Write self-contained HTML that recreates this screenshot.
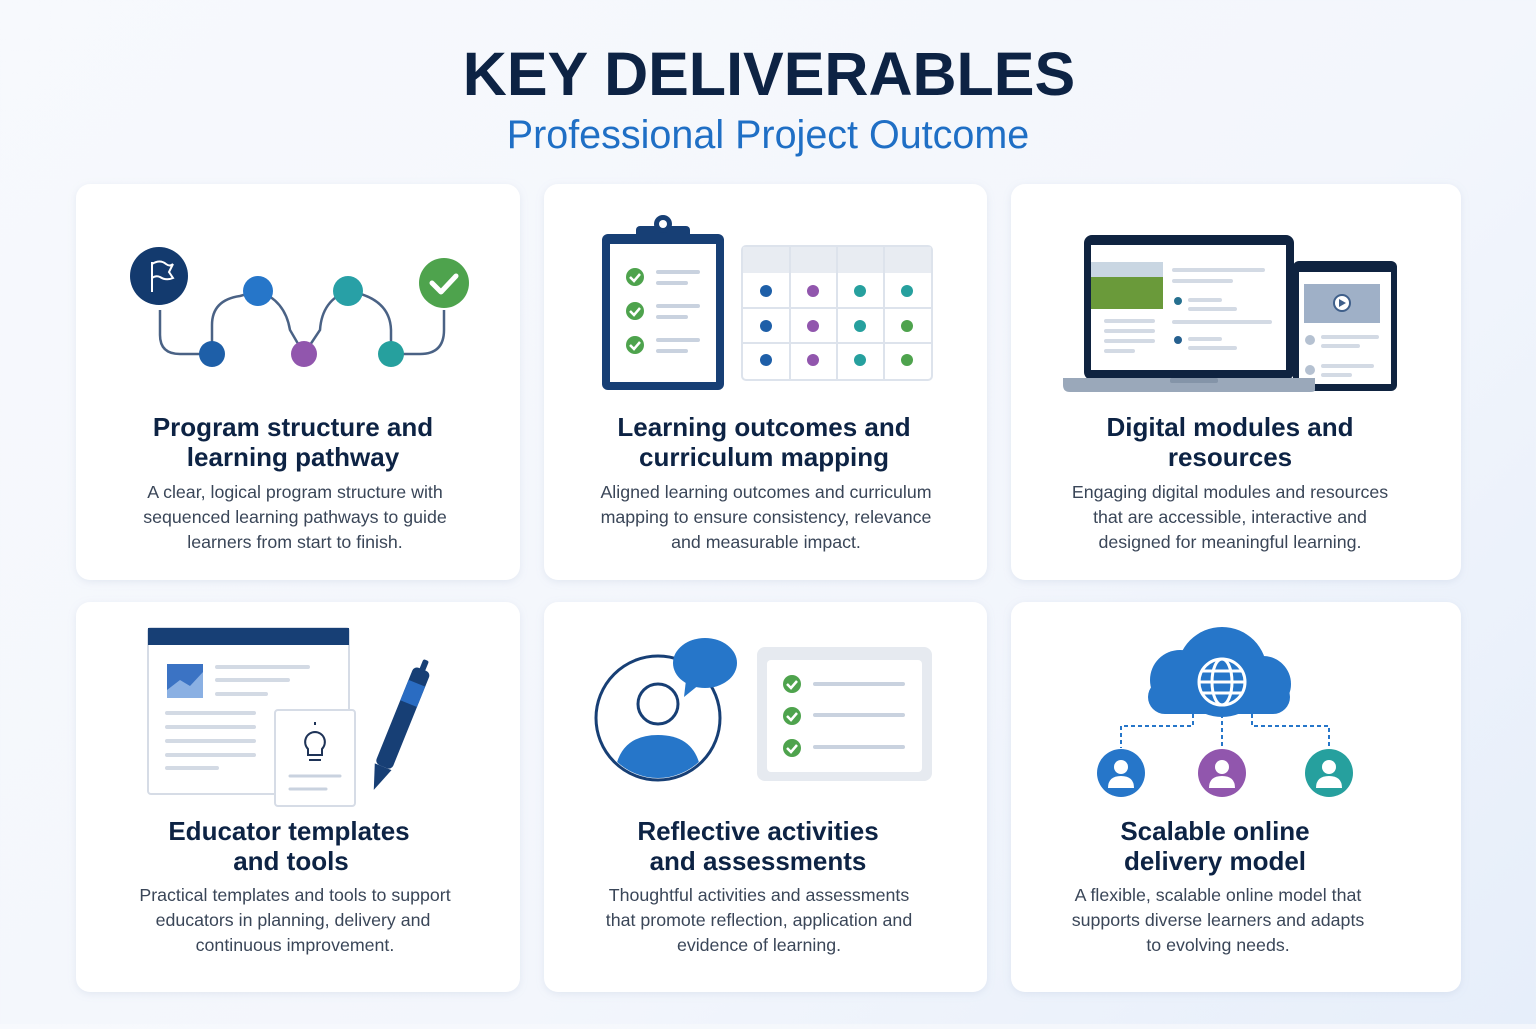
<!DOCTYPE html>
<html><head><meta charset="utf-8"><style>
html,body{margin:0;padding:0;}
body{width:1536px;height:1024px;background:linear-gradient(135deg,#f7f9fd 0%,#f3f6fc 60%,#e6eefa 100%);font-family:"Liberation Sans",sans-serif;overflow:hidden;}
svg text{font-family:"Liberation Sans",sans-serif;}
</style></head><body>
<svg width="1536" height="1024" viewBox="0 0 1536 1024" xmlns="http://www.w3.org/2000/svg">
<defs>
<filter id="sh" x="-10%" y="-10%" width="120%" height="120%"><feDropShadow dx="0" dy="2" stdDeviation="4" flood-color="#8aa0c0" flood-opacity="0.18"/></filter>
</defs>
<text x="769" y="95" text-anchor="middle" font-size="61" font-weight="bold" fill="#0d2344">KEY DELIVERABLES</text>
<text x="768" y="148" text-anchor="middle" font-size="39.5" fill="#1f6fc5">Professional Project Outcome</text>

<g filter="url(#sh)" fill="#fff">
<rect x="76" y="184" width="444" height="396" rx="14"/>
<rect x="544" y="184" width="443" height="396" rx="14"/>
<rect x="1011" y="184" width="450" height="396" rx="14"/>
<rect x="76" y="602" width="444" height="390" rx="14"/>
<rect x="544" y="602" width="443" height="390" rx="14"/>
<rect x="1011" y="602" width="450" height="390" rx="14"/>
</g>

<!-- Icon 1 pathway -->
<g fill="none" stroke="#4a6285" stroke-width="2.5">
<path d="M160 310 V335 Q160 354 180 354 H212"/>
<path d="M212 354 V325 Q212 300 240 296 L258 291"/>
<path d="M258 291 Q285 300 290 330 L304 354"/>
<path d="M304 354 L320 330 Q322 300 348 291"/>
<path d="M348 291 Q390 298 391 330 V354"/>
<path d="M391 354 H420 Q444 354 444 330 V310"/>
</g>
<circle cx="159" cy="276" r="29" fill="#133a6e"/>
<path d="M152 292 V262 M152 264 Q160 259 166 264 Q170 267 173 264 L169 272 L173 278 Q166 281 160 277 Q156 275 152 278" fill="none" stroke="#fff" stroke-width="2"/>
<circle cx="444" cy="283" r="25" fill="#4ea34d"/>
<path d="M432 283 L441 292 L456 276" fill="none" stroke="#fff" stroke-width="5" stroke-linecap="round" stroke-linejoin="round"/>
<circle cx="258" cy="291" r="15" fill="#2676c9"/>
<circle cx="348" cy="291" r="15" fill="#28a0a6"/>
<circle cx="212" cy="354" r="13" fill="#1e5fa8"/>
<circle cx="304" cy="354" r="13" fill="#9156ad"/>
<circle cx="391" cy="354" r="13" fill="#26a09e"/>

<!-- Icon 2 clipboard + grid -->
<rect x="602" y="234" width="122" height="156" rx="6" fill="#173f75"/>
<rect x="610" y="244" width="106" height="138" fill="#fff"/>
<rect x="636" y="226" width="54" height="18" rx="4" fill="#173f75"/>
<circle cx="663" cy="224" r="9" fill="#173f75"/><circle cx="663" cy="224" r="4" fill="#fff"/>
<g fill="#4ea34d"><circle cx="635" cy="277" r="9"/><circle cx="635" cy="311" r="9"/><circle cx="635" cy="345" r="9"/></g>
<g fill="none" stroke="#fff" stroke-width="2.5"><path d="M630 277 l4 4 l6 -7"/><path d="M630 311 l4 4 l6 -7"/><path d="M630 345 l4 4 l6 -7"/></g>
<g stroke="#c9d2df" stroke-width="4" stroke-linecap="round"><path d="M658 272 H698 M658 283 H686 M658 306 H698 M658 317 H686 M658 340 H698 M658 351 H686"/></g>
<rect x="742" y="246" width="190" height="134" rx="4" fill="#fff" stroke="#dde3ec" stroke-width="2"/>
<rect x="743" y="247" width="188" height="26" fill="#e8ecf2"/>
<g stroke="#dde3ec" stroke-width="2"><path d="M790 247 V379 M837 247 V379 M884 247 V379 M743 308 H931 M743 343 H931"/></g>
<g fill="#1e5fa8"><circle cx="766" cy="291" r="6"/><circle cx="766" cy="326" r="6"/><circle cx="766" cy="360" r="6"/></g>
<g fill="#9156ad"><circle cx="813" cy="291" r="6"/><circle cx="813" cy="326" r="6"/><circle cx="813" cy="360" r="6"/></g>
<g fill="#26a09e"><circle cx="860" cy="291" r="6"/><circle cx="860" cy="326" r="6"/><circle cx="860" cy="360" r="6"/><circle cx="907" cy="291" r="6"/></g>
<g fill="#4ea34d"><circle cx="907" cy="326" r="6"/><circle cx="907" cy="360" r="6"/></g>

<!-- Icon 3 laptop + tablet -->
<rect x="1084" y="235" width="210" height="145" rx="8" fill="#0f2340"/>
<rect x="1091" y="245" width="195" height="125" fill="#fff"/>
<rect x="1091" y="262" width="72" height="47" fill="#6a9a3a"/><rect x="1091" y="262" width="72" height="15" fill="#c9d6e2"/>
<g stroke="#d3dae4" stroke-width="4" stroke-linecap="round"><path d="M1174 270 H1263 M1174 281 H1231 M1106 321 H1153 M1106 331 H1153 M1106 341 H1153 M1106 351 H1133 M1174 322 H1270 M1190 300 H1220 M1190 309 H1235 M1190 339 H1220 M1190 348 H1235"/></g>
<circle cx="1178" cy="301" r="4" fill="#26708f"/><circle cx="1178" cy="340" r="4" fill="#26608f"/>
<rect x="1293" y="261" width="104" height="130" rx="6" fill="#0f2340"/>
<rect x="1299" y="272" width="92" height="112" fill="#fff"/>
<rect x="1304" y="284" width="76" height="39" fill="#9fb0c7"/>
<circle cx="1342" cy="303" r="8" fill="#fff" stroke="#3f5f8a" stroke-width="2"/><path d="M1339 299 L1346 303 L1339 307Z" fill="#3f5f8a"/>
<g fill="#b5c1d1"><circle cx="1310" cy="340" r="5"/><circle cx="1310" cy="370" r="5"/></g>
<g stroke="#d3dae4" stroke-width="4" stroke-linecap="round"><path d="M1323 337 H1377 M1323 346 H1358 M1323 366 H1372 M1323 375 H1350"/></g>
<path d="M1063 378 H1315 V390 Q1315 392 1310 392 H1070 Q1063 392 1063 385Z" fill="#9aa8ba"/>
<rect x="1170" y="378" width="48" height="5" rx="2" fill="#8494a8"/>

<!-- Icon 4 template + pen -->
<rect x="148" y="628" width="201" height="166" rx="3" fill="#fff" stroke="#d6dce6" stroke-width="2"/>
<rect x="148" y="628" width="201" height="17" fill="#173f75"/>
<rect x="167" y="664" width="36" height="34" fill="#3b73c4"/><path d="M167 690 L180 680 L190 686 L203 672 V698 H167Z" fill="#8ab0e3"/>
<g stroke="#d3dae4" stroke-width="4" stroke-linecap="round"><path d="M217 667 H308 M217 680 H288 M217 694 H266 M167 713 H254 M167 727 H254 M167 741 H254 M167 755 H254 M167 768 H217"/></g>
<rect x="275" y="710" width="80" height="96" rx="3" fill="#fff" stroke="#d6dce6" stroke-width="2"/>
<path d="M315 732 a10 10 0 0 1 7 17 v6 h-14 v-6 a10 10 0 0 1 7 -17z" fill="none" stroke="#1e3357" stroke-width="2"/>
<path d="M309 760 h12 M315 725 v-3" stroke="#1e3357" stroke-width="2"/>
<g stroke="#c9d2df" stroke-width="3" stroke-linecap="round"><path d="M290 776 H340 M290 789 H326"/></g>
<g transform="rotate(22 400 725)">
<rect x="391" y="665" width="18" height="105" rx="5" fill="#173f75"/>
<rect x="391" y="680" width="18" height="22" fill="#2a6cc2"/>
<path d="M391 770 L400 795 L409 770Z" fill="#173f75"/>
<rect x="397" y="655" width="6" height="12" rx="2" fill="#173f75"/>
</g>

<!-- Icon 5 person + checklist -->
<rect x="757" y="647" width="175" height="134" rx="8" fill="#e6eaf0"/>
<rect x="767" y="660" width="155" height="112" rx="4" fill="#fff"/>
<g fill="#4ea34d"><circle cx="792" cy="684" r="9"/><circle cx="792" cy="716" r="9"/><circle cx="792" cy="748" r="9"/></g>
<g fill="none" stroke="#fff" stroke-width="2.5"><path d="M787 684 l4 4 l6 -7"/><path d="M787 716 l4 4 l6 -7"/><path d="M787 748 l4 4 l6 -7"/></g>
<g stroke="#c9d2df" stroke-width="4" stroke-linecap="round"><path d="M815 684 H903 M815 715 H903 M815 747 H903"/></g>
<circle cx="658" cy="718" r="62" fill="#fff" stroke="#173f75" stroke-width="3"/>
<clipPath id="cp"><circle cx="658" cy="718" r="60"/></clipPath>
<g clip-path="url(#cp)"><path d="M614 785 Q614 735 658 735 Q702 735 702 785Z" fill="#2676c9"/></g>
<circle cx="658" cy="704" r="20" fill="#fff" stroke="#173f75" stroke-width="3"/>
<ellipse cx="705" cy="663" rx="32" ry="25" fill="#2676c9"/>
<path d="M686 680 L684 697 L700 684Z" fill="#2676c9"/>

<!-- Icon 6 cloud -->
<g fill="#2676c9">
<circle cx="1222" cy="672" r="45"/><circle cx="1180" cy="680" r="30"/><circle cx="1263" cy="684" r="28"/>
<rect x="1148" y="680" width="142" height="34" rx="17"/>
</g>
<g fill="none" stroke="#fff" stroke-width="3">
<circle cx="1222" cy="682" r="23"/><ellipse cx="1222" cy="682" rx="10" ry="23"/><path d="M1199 682 H1245 M1202 671 H1242 M1202 693 H1242"/>
</g>
<g fill="none" stroke="#2676c9" stroke-width="2" stroke-dasharray="4 3">
<path d="M1193 700 V726 H1121 V748 M1222 714 V748 M1252 700 V726 H1329 V748"/>
</g>
<circle cx="1121" cy="773" r="24" fill="#2676c9"/><circle cx="1222" cy="773" r="24" fill="#9156ad"/><circle cx="1329" cy="773" r="24" fill="#26a09e"/>
<g fill="#fff">
<circle cx="1121" cy="767" r="7"/><path d="M1108 788 Q1108 776 1121 776 Q1134 776 1134 788Z"/>
<circle cx="1222" cy="767" r="7"/><path d="M1209 788 Q1209 776 1222 776 Q1235 776 1235 788Z"/>
<circle cx="1329" cy="767" r="7"/><path d="M1316 788 Q1316 776 1329 776 Q1342 776 1342 788Z"/>
</g>

<!-- Texts -->
<g text-anchor="middle" fill="#0d2344" font-size="26" font-weight="bold">
<text x="293" y="436">Program structure and</text><text x="293" y="466">learning pathway</text>
<text x="764" y="436">Learning outcomes and</text><text x="764" y="466">curriculum mapping</text>
<text x="1230" y="436">Digital modules and</text><text x="1230" y="466">resources</text>
<text x="289" y="840">Educator templates</text><text x="291" y="870">and tools</text>
<text x="758" y="840">Reflective activities</text><text x="758" y="870">and assessments</text>
<text x="1215" y="840">Scalable online</text><text x="1215" y="870">delivery model</text>
</g>
<g text-anchor="middle" fill="#3a4658" font-size="17.8">
<text x="295" y="498">A clear, logical program structure with</text>
<text x="295" y="523">sequenced learning pathways to guide</text>
<text x="295" y="548">learners from start to finish.</text>
<text x="766" y="498">Aligned learning outcomes and curriculum</text>
<text x="766" y="523">mapping to ensure consistency, relevance</text>
<text x="766" y="548">and measurable impact.</text>
<text x="1230" y="498">Engaging digital modules and resources</text>
<text x="1230" y="523">that are accessible, interactive and</text>
<text x="1230" y="548">designed for meaningful learning.</text>
<text x="295" y="901">Practical templates and tools to support</text>
<text x="293" y="926">educators in planning, delivery and</text>
<text x="295" y="951">continuous improvement.</text>
<text x="759" y="901">Thoughtful activities and assessments</text>
<text x="759" y="926">that promote reflection, application and</text>
<text x="759" y="951">evidence of learning.</text>
<text x="1218" y="901">A flexible, scalable online model that</text>
<text x="1218" y="926">supports diverse learners and adapts</text>
<text x="1218" y="951">to evolving needs.</text>
</g>
</svg>
</body></html>
